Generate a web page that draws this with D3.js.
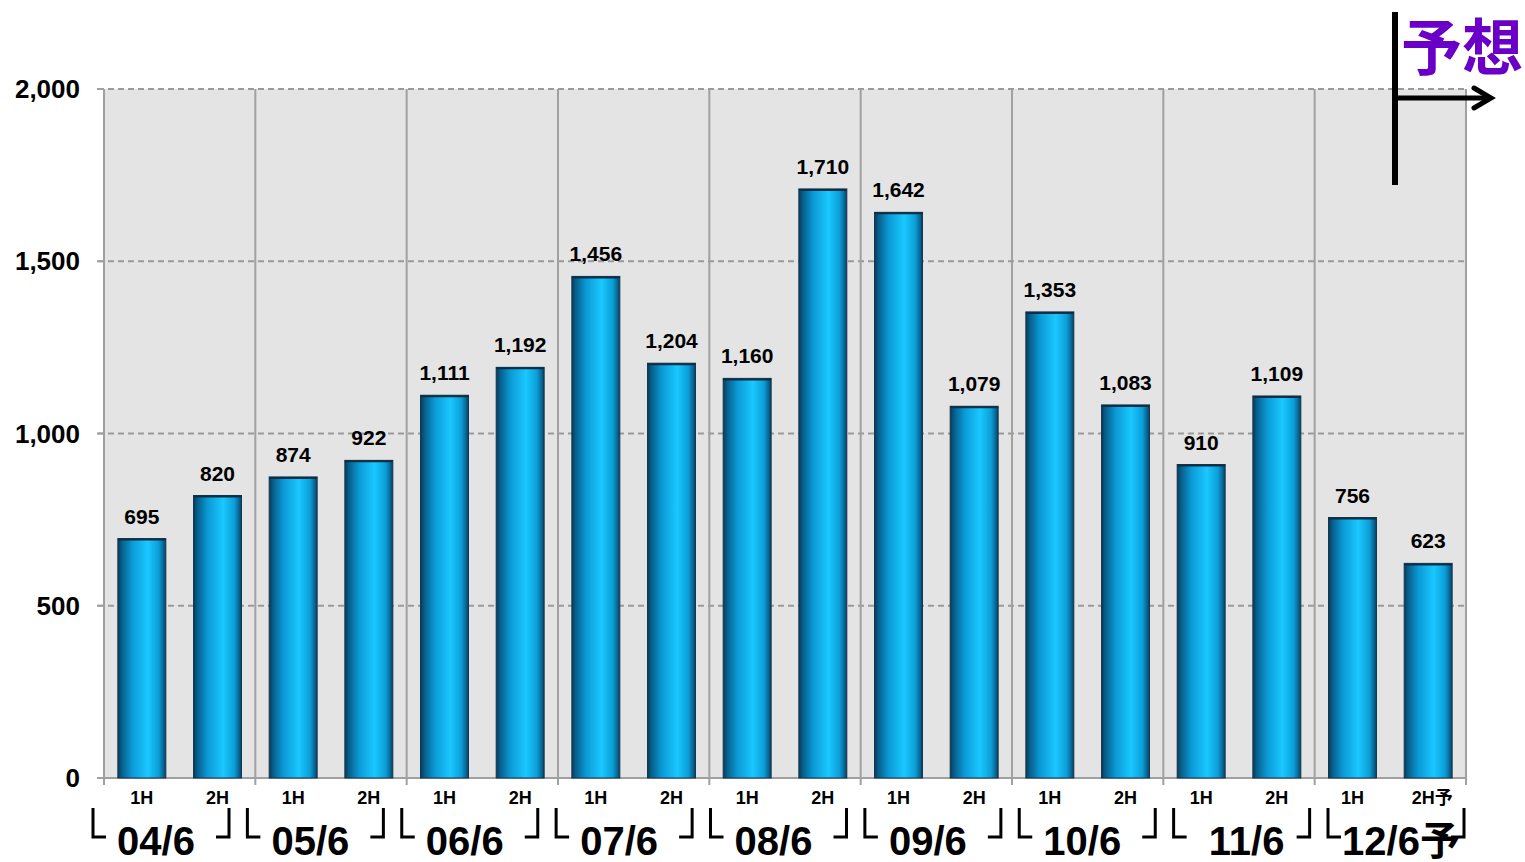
<!DOCTYPE html>
<html><head><meta charset="utf-8">
<script src="https://cdn.jsdelivr.net/npm/d3@7"></script>
<style>
html,body{margin:0;padding:0;background:#fff;}
svg{display:block;font-family:"Liberation Sans",Arial,"Noto Sans CJK JP",sans-serif;}
</style></head>
<body>
<svg id="c" width="1525" height="862"></svg>
<script>
const groups = ["04/6","05/6","06/6","07/6","08/6","09/6","10/6","11/6","12/6予"];
const halves = ["1H","2H","1H","2H","1H","2H","1H","2H","1H","2H","1H","2H","1H","2H","1H","2H","1H","2H予"];
const values = [695,820,874,922,1111,1192,1456,1204,1160,1710,1642,1079,1353,1083,910,1109,756,623];
const yTicks = [0,500,1000,1500,2000];
const forecastLabel = "予想";

const svg = d3.select("#c");
const L = 104, R = 1466, T = 89, B = 778;

const x = d3.scaleBand().domain(d3.range(values.length)).range([L, R])
  .paddingInner(0.366).paddingOuter(0.183);
const gx = d3.scaleBand().domain(groups).range([L, R]).padding(0);
const y = d3.scaleLinear().domain([0, 2000]).range([B, T]);
const bracketX = d3.scaleLinear().domain([0, groups.length - 1]).range([93, 1328]);

// gradient
const defs = svg.append("defs");
const grad = defs.append("linearGradient").attr("id","barg").attr("x1","0").attr("x2","1").attr("y1","0").attr("y2","0");
[[0,"#063a58"],[0.08,"#075e8a"],[0.3,"#0b9ad6"],[0.62,"#1ac8ff"],[0.85,"#0c9ed8"],[0.95,"#086592"],[1,"#063f5e"]]
  .forEach(([o,c]) => grad.append("stop").attr("offset",o).attr("stop-color",c));

// plot background
svg.append("rect").attr("x", L).attr("y", T).attr("width", R - L).attr("height", B - T).attr("fill", "#e4e4e4");

// horizontal dashed grid
svg.append("g").selectAll("line").data(yTicks.filter(d => d > 0)).join("line")
  .attr("x1", L - 6).attr("x2", R).attr("y1", d => y(d)).attr("y2", d => y(d))
  .attr("stroke", "#9a9a9a").attr("stroke-width", 2).attr("stroke-dasharray", "6,4");

// vertical group separators
const seps = groups.slice(1).map(g => gx(g)).concat([R]);
svg.append("g").selectAll("line").data(seps).join("line")
  .attr("x1", d => d).attr("x2", d => d).attr("y1", T).attr("y2", B + 7)
  .attr("stroke", "#a0a0a0").attr("stroke-width", 2);

// left axis
svg.append("line").attr("x1", L).attr("x2", L).attr("y1", T).attr("y2", B + 7)
  .attr("stroke", "#a0a0a0").attr("stroke-width", 2);
svg.append("g").selectAll("line").data(yTicks).join("line")
  .attr("x1", L - 7).attr("x2", L).attr("y1", d => y(d)).attr("y2", d => y(d))
  .attr("stroke", "#a0a0a0").attr("stroke-width", 2);
// bottom axis
svg.append("line").attr("x1", L - 7).attr("x2", R).attr("y1", B).attr("y2", B)
  .attr("stroke", "#a0a0a0").attr("stroke-width", 2);

// y labels
svg.append("g").selectAll("text").data(yTicks).join("text")
  .attr("x", 80).attr("y", d => y(d) + 9).attr("text-anchor", "end")
  .attr("font-size", 26).attr("font-weight", "bold").attr("fill", "#000")
  .text(d => d3.format(",")(d));

// bars
svg.append("g").selectAll("rect").data(values).join("rect")
  .attr("x", (d, i) => x(i)).attr("width", x.bandwidth())
  .attr("y", d => y(d)).attr("height", d => B - y(d))
  .attr("fill", "url(#barg)").attr("stroke", "#16374f").attr("stroke-width", 1);
svg.append("g").selectAll("line").data(values).join("line")
  .attr("x1", (d, i) => x(i)).attr("x2", (d, i) => x(i) + x.bandwidth())
  .attr("y1", d => y(d) + 1).attr("y2", d => y(d) + 1)
  .attr("stroke", "#0d2e45").attr("stroke-width", 2);

// value labels
svg.append("g").selectAll("text").data(values).join("text")
  .attr("x", (d, i) => x(i) + x.bandwidth() / 2).attr("y", d => y(d) - 15)
  .attr("text-anchor", "middle").attr("font-size", 21).attr("font-weight", "bold").attr("fill", "#000")
  .text(d => d3.format(",")(d));

// half labels
svg.append("g").selectAll("text").data(halves).join("text")
  .attr("x", (d, i) => x(i) + x.bandwidth() / 2 + (i === halves.length - 1 ? 4 : 0)).attr("y", 804)
  .attr("text-anchor", "middle").attr("font-size", 18).attr("font-weight", "bold").attr("fill", "#000")
  .text(d => d);

// brackets
const br = svg.append("g").attr("fill", "none").attr("stroke", "#000").attr("stroke-width", 3);
groups.forEach((g, i) => {
  const l = bracketX(i), r = l + 136;
  br.append("path").attr("d", `M${l},808V837H${l + 13}`);
  br.append("path").attr("d", `M${r},808V837H${r - 13}`);
});
svg.append("g").selectAll("text").data(groups).join("text")
  .attr("x", (d, i) => bracketX(i) + 63 + (i >= groups.length - 2 ? 10 : 0)).attr("y", 855)
  .attr("text-anchor", "middle").attr("font-size", 40).attr("font-weight", "bold").attr("fill", "#000")
  .text(d => d);

// forecast marker
const fx = 1395;
svg.append("line").attr("x1", fx).attr("x2", fx).attr("y1", 12).attr("y2", 185)
  .attr("stroke", "#000").attr("stroke-width", 6);
svg.append("line").attr("x1", fx).attr("x2", 1486).attr("y1", 98).attr("y2", 98)
  .attr("stroke", "#000").attr("stroke-width", 5);
svg.append("path").attr("d", "M1474,88L1491,98L1474,108")
  .attr("fill", "none").attr("stroke", "#000").attr("stroke-width", 5)
  .attr("stroke-linecap", "round").attr("stroke-linejoin", "miter");
svg.append("text").attr("x", 1401).attr("y", 70)
  .attr("font-family", "'Noto Sans CJK JP',sans-serif").attr("font-size", 61).attr("font-weight", "bold")
  .attr("fill", "#6a00c8").text(forecastLabel);
</script>
</body></html>
